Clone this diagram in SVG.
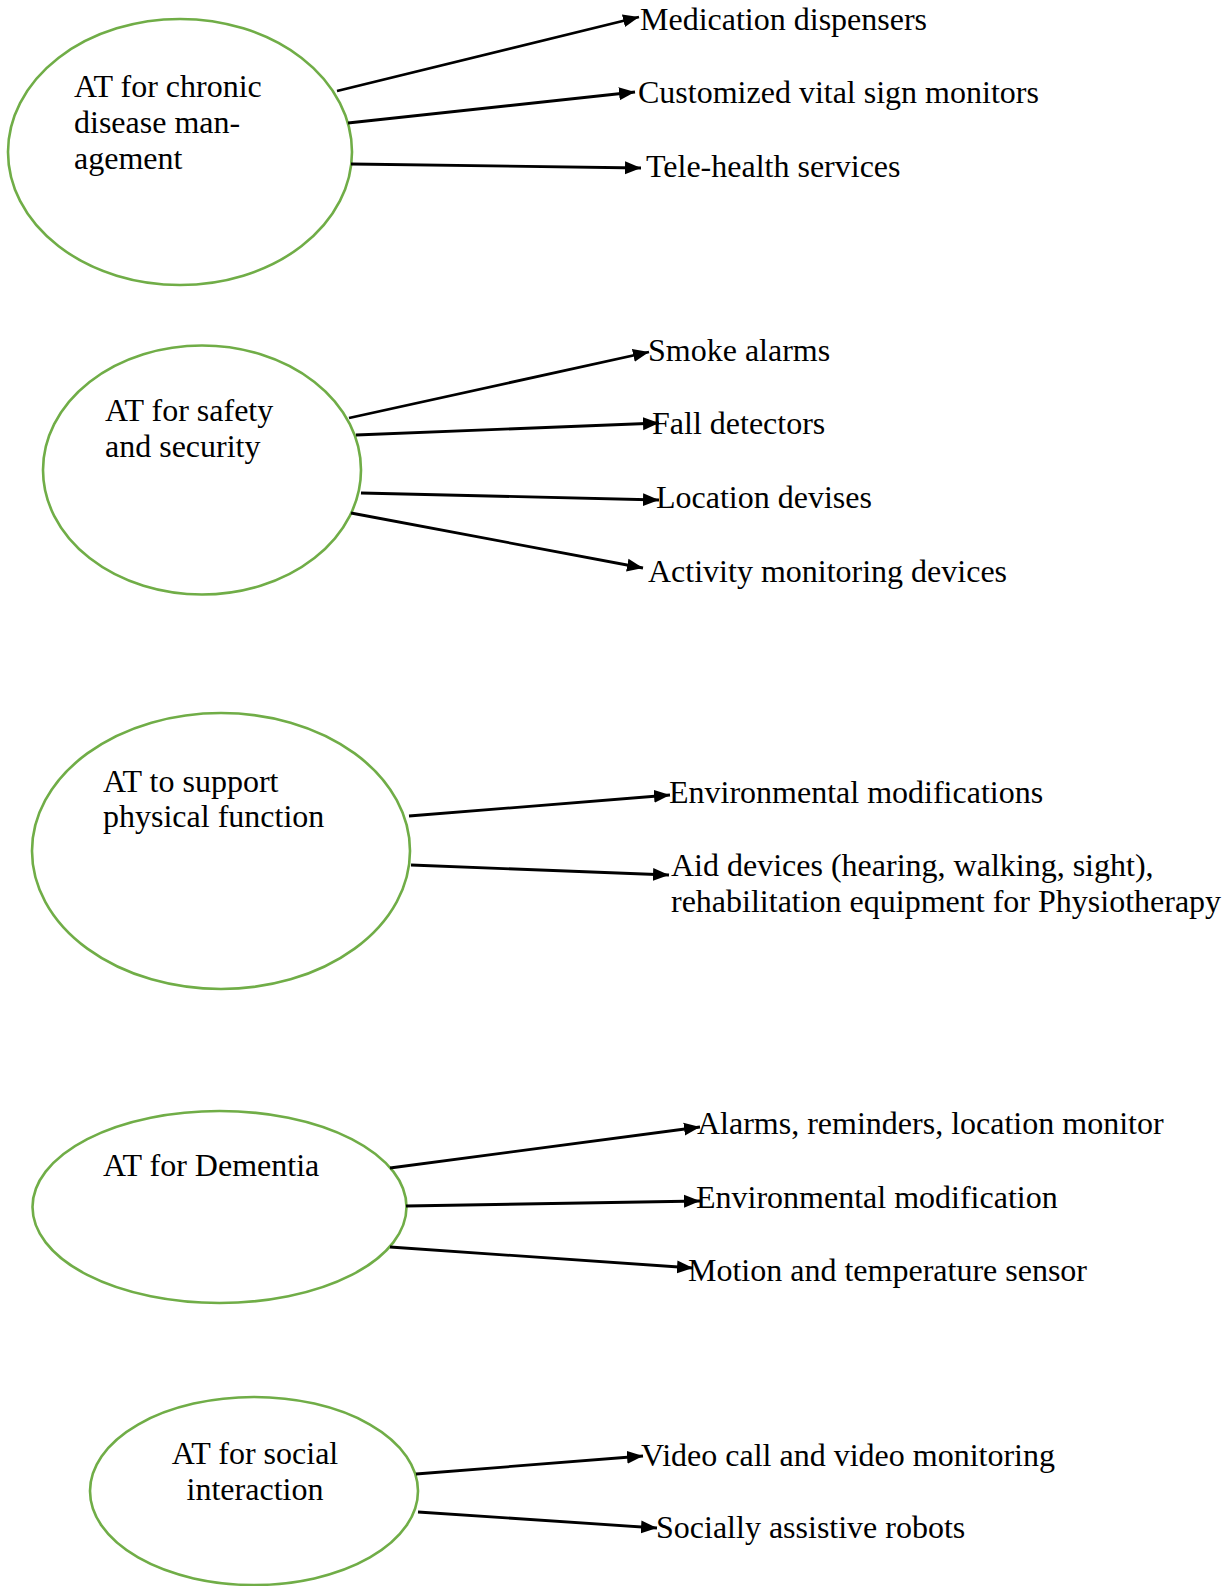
<svg xmlns="http://www.w3.org/2000/svg" width="1230" height="1586" viewBox="0 0 1230 1586">
<style>
.node{fill:#ffffff;stroke:#70AD47;stroke-width:2.6}
.t{font-family:"Liberation Serif","Times New Roman",serif;font-size:32px;fill:#000000}
.c{text-anchor:middle}
.e{fill:none;stroke:#000000;stroke-width:2.8}
</style>
<defs>
<marker id="ah" markerUnits="userSpaceOnUse" markerWidth="17" markerHeight="14" refX="16" refY="7" orient="auto">
<path d="M0,0.5 L16,7 L0,13.5 z" fill="#000000"/>
</marker>
</defs>
<rect width="1230" height="1586" fill="#ffffff"/>
<g id="n1">
<ellipse class="node" cx="180" cy="152" rx="172" ry="133"/>
<text class="t" x="74" y="97">AT for chronic</text>
<text class="t" x="74" y="133">disease man-</text>
<text class="t" x="74" y="169">agement</text>
</g>
<g id="n1a"><text class="t" x="640" y="30">Medication dispensers</text></g>
<g id="n1b"><text class="t" x="638" y="103">Customized vital sign monitors</text></g>
<g id="n1c"><text class="t" x="646" y="177">Tele-health services</text></g>
<g id="n2">
<ellipse class="node" cx="202" cy="470" rx="159" ry="124.5"/>
<text class="t" x="105" y="421">AT for safety</text>
<text class="t" x="105" y="457">and security</text>
</g>
<g id="n2a"><text class="t" x="648" y="361">Smoke alarms</text></g>
<g id="n2b"><text class="t" x="652" y="434">Fall detectors</text></g>
<g id="n2c"><text class="t" x="656" y="508">Location devises</text></g>
<g id="n2d"><text class="t" x="648" y="582">Activity monitoring devices</text></g>
<g id="n3">
<ellipse class="node" cx="221" cy="851" rx="189" ry="138"/>
<text class="t" x="103" y="792">AT to support</text>
<text class="t" x="103" y="827">physical function</text>
</g>
<g id="n3a"><text class="t" x="669" y="803">Environmental modifications</text></g>
<g id="n3b">
<text class="t" x="671" y="876">Aid devices (hearing, walking, sight),</text>
<text class="t" x="671" y="912">rehabilitation equipment for Physiotherapy</text>
</g>
<g id="n4">
<ellipse class="node" cx="219.5" cy="1207" rx="187" ry="96"/>
<text class="t" x="103" y="1176">AT for Dementia</text>
</g>
<g id="n4a"><text class="t" x="697" y="1134">Alarms, reminders, location monitor</text></g>
<g id="n4b"><text class="t" x="696" y="1208">Environmental modification</text></g>
<g id="n4c"><text class="t" x="688" y="1281">Motion and temperature sensor</text></g>
<g id="n5">
<ellipse class="node" cx="254" cy="1491" rx="164" ry="94"/>
<text class="t c" x="255" y="1464">AT for social</text>
<text class="t c" x="255" y="1500">interaction</text>
</g>
<g id="n5a"><text class="t" x="641" y="1466">Video call and video monitoring</text></g>
<g id="n5b"><text class="t" x="656" y="1538">Socially assistive robots</text></g>
<g id="connectors">
<line class="e" x1="337" y1="91" x2="639" y2="17" marker-end="url(#ah)"/>
<line class="e" x1="348" y1="123" x2="635" y2="92" marker-end="url(#ah)"/>
<line class="e" x1="351" y1="164" x2="641" y2="168" marker-end="url(#ah)"/>
<line class="e" x1="349" y1="418" x2="649" y2="352" marker-end="url(#ah)"/>
<line class="e" x1="356" y1="435" x2="659" y2="423" marker-end="url(#ah)"/>
<line class="e" x1="361" y1="493" x2="659" y2="500" marker-end="url(#ah)"/>
<line class="e" x1="351" y1="513" x2="643" y2="568" marker-end="url(#ah)"/>
<line class="e" x1="409" y1="816" x2="670" y2="795" marker-end="url(#ah)"/>
<line class="e" x1="411" y1="865" x2="669" y2="875" marker-end="url(#ah)"/>
<line class="e" x1="390" y1="1168" x2="700" y2="1127" marker-end="url(#ah)"/>
<line class="e" x1="406" y1="1206" x2="700" y2="1201" marker-end="url(#ah)"/>
<line class="e" x1="390" y1="1247" x2="693" y2="1268" marker-end="url(#ah)"/>
<line class="e" x1="416" y1="1474" x2="643" y2="1456" marker-end="url(#ah)"/>
<line class="e" x1="418" y1="1512" x2="657" y2="1528" marker-end="url(#ah)"/>
</g>
</svg>
